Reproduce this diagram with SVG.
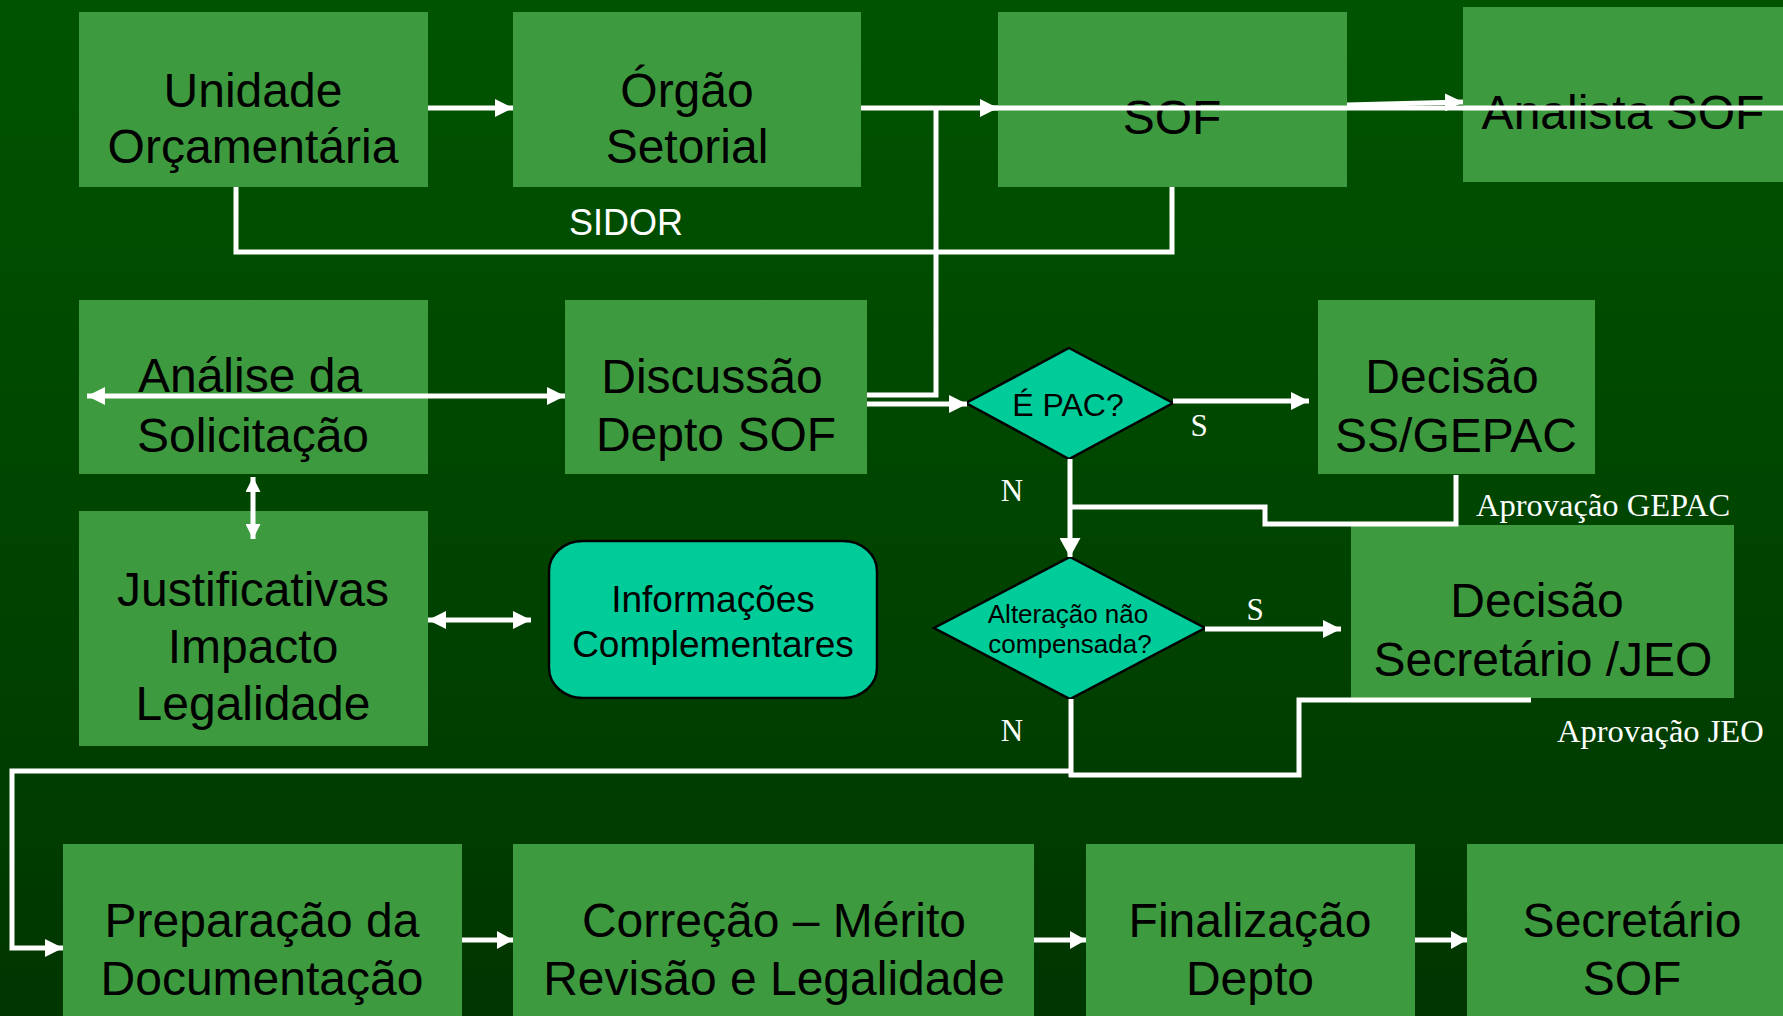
<svg xmlns="http://www.w3.org/2000/svg" width="1783" height="1016" viewBox="0 0 1783 1016">
<defs>
<linearGradient id="bg" x1="0" y1="0" x2="0" y2="1">
<stop offset="0" stop-color="#005400"/>
<stop offset="1" stop-color="#003600"/>
</linearGradient>
<marker id="ah" markerUnits="userSpaceOnUse" markerWidth="18" markerHeight="18" refX="18" refY="9" orient="auto-start-reverse" viewBox="0 0 18 18">
<path d="M0,0 L18,9 L0,18 z" fill="#fff"/>
</marker>
<marker id="ahs" markerUnits="userSpaceOnUse" markerWidth="15" markerHeight="15" refX="15" refY="7.5" orient="auto-start-reverse" viewBox="0 0 15 15">
<path d="M0,0 L15,7.5 L0,15 z" fill="#fff"/>
</marker>
<marker id="ahb" markerUnits="userSpaceOnUse" markerWidth="16" markerHeight="18" refX="16" refY="9" orient="auto" viewBox="0 0 16 18">
<path d="M0,0 L16,9 L0,18 z" fill="#fff"/>
</marker>
<marker id="ahw" markerUnits="userSpaceOnUse" markerWidth="19" markerHeight="21" refX="19" refY="10.5" orient="auto" viewBox="0 0 19 21">
<path d="M0,0 L19,10.5 L0,21 z" fill="#fff"/>
</marker>
</defs>
<style>
.box{fill:#3e9a3f}
.teal{fill:#00cc99;stroke:#000;stroke-width:2.5}
.t{font-family:"Liberation Sans",Arial,sans-serif;font-size:48px;fill:#000;text-anchor:middle}
.ts{font-family:"Liberation Sans",Arial,sans-serif;fill:#000;text-anchor:middle}
.lbl{font-family:"Liberation Serif","Times New Roman",serif;font-size:31px;fill:#fff}
.apv{font-size:32.5px}
.c{fill:none;stroke:#fff;stroke-width:5}
</style>
<rect x="0" y="0" width="1783" height="1016" fill="url(#bg)"/>

<g id="unidade"><rect class="box" x="79" y="12" width="349" height="175"/>
<text class="t" x="253" y="107">Unidade</text><text class="t" x="253" y="163">Orçamentária</text></g>
<g id="orgao"><rect class="box" x="513" y="12" width="348" height="175"/>
<text class="t" x="687" y="107">Órgão</text><text class="t" x="687" y="163">Setorial</text></g>
<g id="sof"><rect class="box" x="998" y="12" width="349" height="175"/>
<text class="t" x="1172" y="134">SOF</text></g>
<g id="analista"><rect class="box" x="1463" y="7" width="330" height="175"/>
<text class="t" x="1623" y="129">Analista SOF</text></g>
<g id="analise"><rect class="box" x="79" y="300" width="349" height="174"/>
<text class="t" x="250" y="392">Análise da</text><text class="t" x="253" y="452">Solicitação</text></g>
<g id="discussao"><rect class="box" x="565" y="300" width="302" height="174"/>
<text class="t" x="712" y="393">Discussão</text><text class="t" x="716" y="451">Depto SOF</text></g>
<g id="justificativas"><rect class="box" x="79" y="511" width="349" height="235"/>
<text class="t" x="253" y="606">Justificativas</text><text class="t" x="253" y="663">Impacto</text><text class="t" x="253" y="720">Legalidade</text></g>
<g id="informacoes"><rect class="teal" x="549" y="541" width="328" height="157" rx="34" ry="30"/>
<text class="ts" x="713" y="612" font-size="37">Informações</text><text class="ts" x="713" y="657" font-size="37">Complementares</text></g>
<g id="epac"><polygon class="teal" points="1069,348 1173,403 1069,459 966,403"/>
<text class="ts" x="1068" y="416" font-size="32">É PAC?</text></g>
<g id="decisao-ss"><rect class="box" x="1318" y="300" width="277" height="174"/>
<text class="t" x="1452" y="393">Decisão</text><text class="t" x="1456" y="452">SS/GEPAC</text></g>
<g id="alteracao"><polygon class="teal" points="1070,557 1205,628 1070,699 934,628"/>
<text class="ts" x="1068" y="623" font-size="26">Alteração não</text><text class="ts" x="1070" y="653" font-size="26">compensada?</text></g>
<g id="decisao-jeo"><rect class="box" x="1351" y="525" width="383" height="173"/>
<text class="t" x="1537" y="617">Decisão</text><text class="t" x="1543" y="676">Secretário /JEO</text></g>
<g id="preparacao"><rect class="box" x="63" y="844" width="399" height="180"/>
<text class="t" x="262" y="937">Preparação da</text><text class="t" x="262" y="995">Documentação</text></g>
<g id="correcao"><rect class="box" x="513" y="844" width="521" height="180"/>
<text class="t" x="774" y="937">Correção – Mérito</text><text class="t" x="774" y="995">Revisão e Legalidade</text></g>
<g id="finalizacao"><rect class="box" x="1086" y="844" width="329" height="180"/>
<text class="t" x="1250" y="937">Finalização</text><text class="t" x="1250" y="995">Depto</text></g>
<g id="secretario"><rect class="box" x="1467" y="844" width="330" height="180"/>
<text class="t" x="1632" y="937">Secretário</text><text class="t" x="1632" y="995">SOF</text></g>

<g id="connectors">
<line class="c" x1="428" y1="108" x2="513" y2="108" marker-end="url(#ah)"/>
<line class="c" x1="861" y1="108" x2="998" y2="108" marker-end="url(#ah)"/>
<line class="c" x1="990" y1="108" x2="1783" y2="108"/>
<line class="c" x1="1347" y1="105" x2="1463" y2="102" stroke-width="3" marker-end="url(#ah)"/>
<polyline class="c" points="236,187 236,252 1172,252 1172,187"/>
<polyline class="c" points="936,108 936,395 867,395" stroke-width="5"/>
<line class="c" x1="867" y1="404" x2="967" y2="404" marker-end="url(#ah)"/>
<line class="c" x1="87" y1="396" x2="565" y2="396" marker-start="url(#ah)" marker-end="url(#ah)"/>
<line class="c" x1="253" y1="477" x2="253" y2="539" stroke-width="4" marker-start="url(#ahs)" marker-end="url(#ahs)"/>
<line class="c" x1="428" y1="620" x2="531" y2="620" marker-start="url(#ah)" marker-end="url(#ah)"/>
<line class="c" x1="1173" y1="401" x2="1309" y2="401" stroke-width="6" marker-end="url(#ah)"/>
<line class="c" x1="1070" y1="459" x2="1070" y2="557" stroke-width="6" marker-end="url(#ahw)"/>
<polyline class="c" points="1456,475 1456,524 1265,524 1265,507 1070,507"/>
<line class="c" x1="1205" y1="629" x2="1341" y2="629" stroke-width="6" marker-end="url(#ah)"/>
<polyline class="c" points="1531,700 1299,700 1299,775 1069,775"/>
<line class="c" x1="1071" y1="699" x2="1071" y2="777"/>
<polyline class="c" points="1073,771 12,771 12,948 63,948" stroke-width="6" marker-end="url(#ah)"/>
<line class="c" x1="462" y1="940" x2="513" y2="940" stroke-width="7" marker-end="url(#ahb)"/>
<line class="c" x1="1034" y1="940" x2="1086" y2="940" stroke-width="7" marker-end="url(#ahb)"/>
<line class="c" x1="1415" y1="940" x2="1467" y2="940" stroke-width="7" marker-end="url(#ahb)"/>
</g>

<g id="labels">
<text x="626" y="235" font-family="Liberation Sans, Arial, sans-serif" font-size="36" fill="#fff" text-anchor="middle">SIDOR</text>
<text class="lbl" x="1199" y="436" text-anchor="middle">S</text>
<text class="lbl" x="1012" y="501" text-anchor="middle">N</text>
<text class="lbl apv" x="1476" y="516">Aprovação GEPAC</text>
<text class="lbl" x="1255" y="620" text-anchor="middle">S</text>
<text class="lbl" x="1012" y="741" text-anchor="middle">N</text>
<text class="lbl apv" x="1557" y="742">Aprovação JEO</text>
</g>
</svg>
